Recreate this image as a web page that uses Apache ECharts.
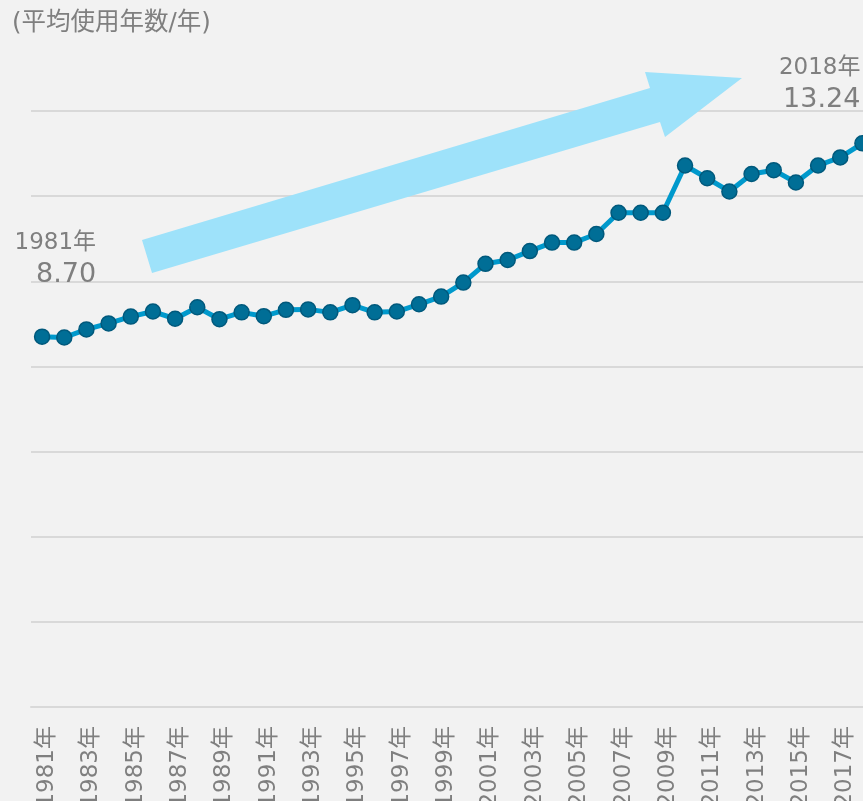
<!DOCTYPE html>
<html><head><meta charset="utf-8">
<script src="https://cdn.jsdelivr.net/npm/echarts@6/dist/echarts.min.js"></script>
<style>html,body{margin:0;padding:0;background:#f2f2f2;}#c{width:863px;height:801px;}</style>
</head><body><div id="c"></div>
<script>
const years = ['1981年','1982年','1983年','1984年','1985年','1986年','1987年','1988年','1989年','1990年',
 '1991年','1992年','1993年','1994年','1995年','1996年','1997年','1998年','1999年','2000年',
 '2001年','2002年','2003年','2004年','2005年','2006年','2007年','2008年','2009年','2010年',
 '2011年','2012年','2013年','2014年','2015年','2016年','2017年','2018年'];
const avgYears = [8.70,8.68,8.87,9.01,9.17,9.29,9.12,9.39,9.11,9.27,
 9.18,9.33,9.34,9.27,9.44,9.27,9.29,9.46,9.64,9.97,
 10.41,10.50,10.71,10.91,10.91,11.11,11.61,11.61,11.61,12.72,
 12.42,12.11,12.52,12.61,12.32,12.72,12.91,13.24];
const yTitle = '(平均使用年数/年)';
const FONT = '"DejaVu Sans", "Noto Sans CJK JP", sans-serif';

const seriesData = avgYears.map((v, i) => {
  if (i === 0 || i === avgYears.length - 1) {
    const first = i === 0;
    return {
      value: v,
      label: {
        show: true,
        position: 'top',
        align: 'right',
        verticalAlign: 'bottom',
        offset: first ? [54, -32] : [-2, -14],
        formatter: () => '{a|' + years[i] + '}\n{b|' + v.toFixed(2) + '}',
        rich: {
          a: {fontSize: 23, color: '#7f7f7f', fontFamily: FONT, align: 'right', lineHeight: 31},
          b: {fontSize: 27, color: '#7f7f7f', fontFamily: FONT, align: 'right', lineHeight: 33}
        }
      }
    };
  }
  return v;
});

const chart = echarts.init(document.getElementById('c'), null, {renderer: 'canvas'});
chart.setOption({
  backgroundColor: '#f2f2f2',
  animation: false,
  grid: {left: 31, width: 842.5, top: 111, bottom: 94, containLabel: false, outerBoundsMode: 'none'},
  xAxis: {
    type: 'category',
    data: years,
    boundaryGap: true,
    axisLine: {show: true, lineStyle: {color: '#d9d9d9', width: 2}},
    axisTick: {show: false},
    axisLabel: {interval: 1, rotate: 90, margin: 19, fontSize: 23, verticalAlign: 'top', lineHeight: 10,
      color: '#7f7f7f', fontFamily: FONT}
  },
  yAxis: {
    type: 'value',
    min: 0, max: 14, interval: 2,
    axisLine: {show: false},
    axisTick: {show: false},
    axisLabel: {show: false},
    splitLine: {lineStyle: {color: '#d9d9d9', width: 2}}
  },
  graphic: [
    {type: 'text', left: 12, top: 11, style: {text: yTitle, fontSize: 24.5, fill: '#7f7f7f', fontFamily: FONT}},
    {type: 'polygon', z: 1, shape: {points: [[142,240],[650,88],[645,72],[742,78],[665,137],[660,122],[152,273]]},
     style: {fill: '#9ee2fa'}}
  ],
  series: [{
    type: 'line',
    data: seriesData,
    z: 5,
    symbol: 'circle',
    symbolSize: 15,
    showAllSymbol: true,
    clip: false,
    lineStyle: {color: '#0099cc', width: 5},
    itemStyle: {color: '#006e96', borderColor: '#00597c', borderWidth: 1.5}
  }]
});
</script></body></html>
